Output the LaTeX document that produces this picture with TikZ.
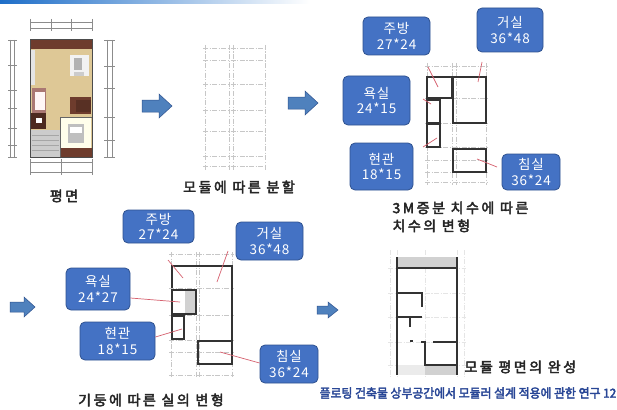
\documentclass[tikz,border=0pt]{standalone}
\usepackage{fontspec}
\newfontfamily\kr[LetterSpace=6]{Noto Sans CJK KR}
\newfontfamily\krb[FakeBold=3,LetterSpace=18]{Noto Sans CJK KR}
\newfontfamily\krcap[FakeBold=3]{Noto Sans CJK KR}

\definecolor{boxblue}{RGB}{68,114,196}
\definecolor{boxedge}{RGB}{47,82,143}
\definecolor{arrowblue}{RGB}{79,129,189}
\definecolor{leader}{RGB}{214,96,110}
\definecolor{capblue}{RGB}{40,70,150}
\definecolor{topbar}{RGB}{30,110,200}
\definecolor{floortan}{RGB}{222,200,150}
\definecolor{darkwood}{RGB}{110,60,45}
\definecolor{bathpink}{RGB}{170,120,115}

\tikzset{
  roombox/.style={rounded corners=5pt, fill=boxblue, draw=boxedge, line width=0.8pt,
    text=white, font=\kr\fontsize{13.5}{15.5}\selectfont, align=center, inner sep=1pt},
  wall/.style={draw=black!80, line width=1.6pt},
  thinwall/.style={draw=black!80, line width=1.3pt},
  leaderline/.style={draw=leader, line width=0.7pt},
  modgrid/.style={draw=black!22, line width=0.9pt, dash pattern=on 5pt off 1.5pt on 1.2pt off 1.5pt},
  steplabel/.style={font=\krb\fontsize{14}{18}\selectfont, text=black!85},
  flowarrow/.style={fill=arrowblue, draw=boxedge, line width=0.5pt, line join=miter},
  dimline/.style={draw=black!45, line width=0.4pt},
}

\begin{document}
\begin{tikzpicture}[x=1pt,y=-1pt]
\useasboundingbox (0,0) rectangle (617,409);
\fill[white] (0,0) rectangle (617,409);

% title bar
\shade[left color=topbar, right color=white] (0,0) rectangle (310,4);

% ---------- original floor plan ----------
% dimension lines
\draw[dimline] (30,22) -- (92,22) (30,28) -- (92,28);
\foreach \x in {30,51,71,92} \draw[dimline] (\x,19) -- (\x,31);
\draw[dimline] (30,162) -- (92,162) (30,172) -- (92,172);
\foreach \x in {30,61,92} \draw[dimline] (\x,159) -- (\x,175);
\draw[dimline] (10,40) -- (10,157) (14,40) -- (14,157);
\foreach \y in {40,65,90,108,128,145,157} \draw[dimline] (8,\y) -- (17,\y);
\draw[dimline] (107,40) -- (107,157) (112,40) -- (112,157);
\foreach \y in {40,66,88,117,140,157} \draw[dimline] (104,\y) -- (115,\y);
% rooms
\fill[floortan] (30,39) rectangle (92,157);
\fill[darkwood] (30,39) rectangle (92,49);
\fill[white!90!black] (31,50) rectangle (35,85);
\fill[bathpink] (32,88) rectangle (46,113);
\fill[white!85!pink] (35,92) rectangle (45,110);
\fill[darkwood!70!black] (31,113) rectangle (46,129);
\fill[white] (36,118) rectangle (42,123);
\fill[black!20] (31,130) rectangle (60,157);
\foreach \y in {135,140,145,150} \draw[black!35, line width=0.4pt] (32,\y) -- (59,\y);
\fill[darkwood] (70,97) rectangle (91,114);
\fill[darkwood!80!black] (76,100) rectangle (91,112);
\fill[white!92!yellow] (61,117) rectangle (91,148);
\fill[black!25] (68,124) rectangle (84,143);
\fill[white] (70,127) rectangle (82,133);
\fill[darkwood] (61,148) rectangle (92,157);
\fill[white!90!gray] (70,55) rectangle (89,76);
\fill[black!30] (74,58) rectangle (82,70);
\fill[black!20] (74,72) rectangle (84,76);
\draw[black!70, line width=0.8pt] (30,39) rectangle (92,157);
\draw[black!60, line width=0.6pt] (60,117) -- (92,117) (60,117) -- (60,157);
\node[steplabel] (plan) at (64,196) {평면};

% ---------- modular division ----------
\foreach \x in {205,229,233,265} \draw[modgrid] (\x,45) -- (\x,170);
\foreach \y in {48,60,84,110,131,156,166} \draw[modgrid] (203,\y) -- (267,\y);
\node[steplabel] (division) at (239,187) {모듈에 따른 분할};

% ---------- 3M increments ----------
\foreach \x in {427,452,456,486} \draw[modgrid] (\x,63) -- (\x,185);
\foreach \y in {66,98,123,147,160,172,182} \draw[modgrid] (425,\y) -- (488,\y);
\draw[wall] (427,77) rectangle (452,98);
\draw[wall] (453,77) rectangle (486,123);
\draw[wall] (427,100) rectangle (440,123);
\draw[wall] (427,124) rectangle (440,147);
\draw[wall] (453,149) rectangle (486,172);
\node[roombox, minimum width=67pt, minimum height=38pt] (kitA) at (396.5,36) {주방\\27*24};
\node[roombox, minimum width=66pt, minimum height=44pt] (livA) at (510,30) {거실\\36*48};
\node[roombox, minimum width=67pt, minimum height=49pt] (bathA) at (376.5,100.5) {욕실\\24*15};
\node[roombox, minimum width=63pt, minimum height=47pt] (entA) at (381.5,166.5) {현관\\18*15};
\node[roombox, minimum width=58pt, minimum height=36pt] (bedA) at (531,172) {침실\\36*24};
\coordinate (kitAs) at (428,67);  \coordinate (kitAe) at (438,87);
\coordinate (livAs) at (482,62);  \coordinate (livAe) at (478,82);
\coordinate (bathAs) at (423,99); \coordinate (bathAe) at (431,104);
\coordinate (entAs) at (423,147); \coordinate (entAe) at (437,138);
\coordinate (bedAs) at (477,159); \coordinate (bedAe) at (497,167);
\draw[leaderline] (kitAs) -- (kitAe);
\draw[leaderline] (livAs) -- (livAe);
\draw[leaderline] (bathAs) -- (bathAe);
\draw[leaderline] (entAs) -- (entAe);
\draw[leaderline] (bedAs) -- (bedAe);
\node[steplabel, anchor=north west, align=left] (increment) at (389,198) {3M증분 치수에 따른\\치수의 변형};

% ---------- columns ----------
\foreach \x in {171,196,199,232} \draw[modgrid] (\x,252) -- (\x,377);
\foreach \y in {254,288,315,340,352,375} \draw[modgrid] (169,\y) -- (234,\y);
\fill[black!18] (185,291) rectangle (195,314);
\draw[wall] (172,288) -- (172,266) -- (232,266) -- (232,364);
\draw[wall] (172,290) rectangle (196,314);
\draw[thinwall] (172,316) rectangle (184,339);
\draw[wall] (198,341) rectangle (232,364);
\node[roombox, minimum width=71pt, minimum height=33pt] (kitB) at (158.5,226.5) {주방\\27*24};
\node[roombox, minimum width=67pt, minimum height=38pt] (livB) at (269.5,241) {거실\\36*48};
\node[roombox, minimum width=64pt, minimum height=42pt] (bathB) at (98,289) {욕실\\24*27};
\node[roombox, minimum width=75pt, minimum height=38pt] (entB) at (117.5,341) {현관\\18*15};
\node[roombox, minimum width=58pt, minimum height=38pt] (bedB) at (289,364) {침실\\36*24};
\coordinate (kitBe) at (183,278);
\coordinate (livBe) at (217,282);
\coordinate (bathBe) at (180,302);
\coordinate (entBe) at (182,329);
\coordinate (bedBe) at (220,352);
\draw[leaderline] (168,260) -- (kitBe);
\draw[leaderline] (228,251) -- (livBe);
\draw[leaderline] (bathB.east |- 0,298) -- (bathBe);
\draw[leaderline] (entB.east |- 0,337) -- (entBe);
\draw[leaderline] (bedB.west |- 0,363) -- (bedBe);
\node[steplabel] (columns) at (151,400) {기둥에 따른 실의 변형};

% ---------- finished modular plan ----------
\foreach \x in {390,397,425,457,464} \draw[modgrid, draw=black!10] (\x,250) -- (\x,378);
\foreach \y in {268,293,317,342,365} \draw[modgrid, draw=black!10] (388,\y) -- (466,\y);
\fill[black!18] (397,257) rectangle (457,268);
\fill[black!18] (425,365) rectangle (457,375);
\fill[black!8] (397,365) rectangle (425,375);
\draw[thinwall] (397,257) -- (397,375);
\draw[thinwall] (457,257) -- (457,375);
\draw[thinwall] (397,268) -- (457,268);
\draw[thinwall] (397,293) -- (422,293) -- (422,307);
\draw[wall] (397,317) -- (422,317);
\draw[thinwall] (410,317) -- (410,327);
\draw[thinwall] (410,341) -- (413,341);
\draw[thinwall] (421,342) -- (425,342) -- (425,365) -- (457,365);
\draw[thinwall] (433,342) -- (457,342);
\node[steplabel, anchor=west] (final) at (461,367) {모듈 평면의 완성};

% ---------- flow arrows ----------
\draw[flowarrow] (142,100) -- (159,100) -- (159,94) -- (172,106) -- (159,118) -- (159,112) -- (142,112) -- cycle;
\draw[flowarrow] (288,97) -- (305,97) -- (305,91) -- (318,103) -- (305,115) -- (305,109) -- (288,109) -- cycle;
\draw[flowarrow] (10,302) -- (24,302) -- (24,297) -- (35,307) -- (24,317) -- (24,312) -- (10,312) -- cycle;
\draw[flowarrow] (317,306) -- (328,306) -- (328,302) -- (338,310) -- (328,318) -- (328,314) -- (317,314) -- cycle;

% caption
\node[text=capblue, font=\krcap\fontsize{12.5}{13}\selectfont] (caption) at (468,393)
  {\scalebox{0.95}[1]{플로팅 건축물 상부공간에서 모듈러 설계 적용에 관한 연구 12}};
\end{tikzpicture}
\end{document}
